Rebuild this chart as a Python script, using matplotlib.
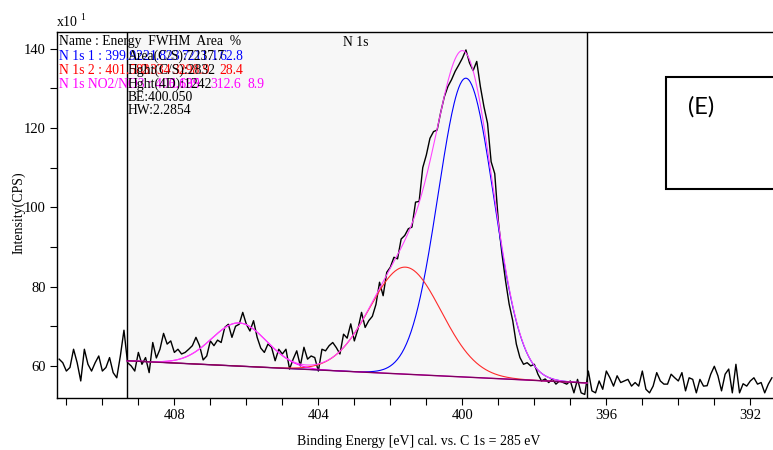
import numpy as np
import matplotlib
matplotlib.use("Agg")
import matplotlib.pyplot as plt
from matplotlib.patches import Rectangle
from matplotlib.ticker import MultipleLocator

# N 1s spectrum, 411.2 -> 391.4 eV in 0.1 eV steps (x10 CPS)
e_start, e_stop = 411.2, 391.4
counts = [
    61.7, 60.8, 58.7, 59.6, 64.2, 60.8, 56.2, 64.2, 60.4, 58.7,
    60.8, 62.5, 58.7, 59.6, 62.1, 58.3, 57.0, 62.5, 69.0, 60.8,
    60.0, 58.7, 63.4, 60.4, 62.1, 58.3, 65.9, 62.0, 64.2, 68.2,
    65.5, 66.3, 63.4, 64.2, 63.0, 63.4, 64.2, 65.1, 67.2, 65.1,
    61.5, 62.5, 66.3, 65.1, 66.5, 65.9, 69.7, 70.5, 67.2, 70.0,
    70.5, 73.5, 70.5, 68.8, 71.4, 67.2, 64.5, 63.4, 65.5, 64.7,
    61.3, 64.2, 63.0, 64.2, 59.2, 61.7, 63.8, 60.0, 64.7, 61.7,
    62.5, 62.1, 58.7, 64.2, 63.8, 65.1, 65.9, 64.6, 63.0, 68.0,
    67.0, 70.6, 66.3, 69.3, 73.5, 69.7, 71.4, 72.5, 75.5, 81.1,
    77.7, 83.6, 84.9, 87.4, 87.0, 92.0, 92.9, 94.6, 95.0, 101.3,
    101.5, 110.0, 113.2, 117.4, 119.1, 119.5, 124.0, 127.9, 130.5, 132.2,
    134.3, 135.9, 137.6, 139.7, 136.4, 134.5, 136.8, 130.5, 125.4, 121.2,
    111.5, 108.5, 96.5, 88.3, 81.5, 75.6, 71.4, 65.5, 62.1, 60.4,
    60.8, 60.0, 60.4, 57.9, 56.2, 56.7, 55.8, 56.7, 55.4, 56.2,
    55.8, 55.4, 56.2, 53.2, 56.6, 53.2, 52.8, 58.7, 53.7, 53.2,
    56.2, 54.1, 58.7, 57.0, 54.9, 57.5, 55.8, 56.2, 56.6, 54.9,
    55.8, 54.9, 58.7, 54.1, 53.2, 54.9, 58.3, 56.2, 55.4, 55.4,
    57.9, 57.0, 56.2, 58.3, 53.7, 57.0, 56.6, 53.2, 56.6, 54.9,
    55.0, 57.9, 59.9, 57.5, 53.7, 57.9, 59.2, 53.2, 60.4, 53.2,
    55.5, 54.9, 56.2, 57.0, 55.4, 55.8, 53.2, 55.4, 57.0,
]

# fitted components: centre (eV), FWHM (eV), height above background
peak_centre = [399.90, 401.58, 406.20]
peak_fwhm = [1.82, 2.33, 1.80]
peak_height = [75.4, 27.0, 10.9]
peak_colors = ["#0000ff", "#ff2a2a", "#ff00ff"]

# fit region and linear background at its two ends
region = [409.31, 396.54]
bg_ends = [61.3, 55.7]

W, H = 773, 450


def px(x, y):
    return x / W, 1 - y / H


energy = np.linspace(e_start, e_stop, len(counts))
e_fit = np.linspace(region[0], region[1], 600)
bg = np.interp(e_fit, region[::-1], bg_ends[::-1])

fig = plt.figure(figsize=(W / 100, H / 100), dpi=100)
ax = fig.add_axes([57 / W, 1 - 398 / H, 1.0 - 57 / W, (398 - 31.7) / H])

serif = "Liberation Serif"

ax.axvspan(region[1], region[0], color="#f7f7f7", zorder=0)
ax.axvline(region[0], color="black", lw=1.0, zorder=1)
ax.axvline(region[1], color="black", lw=1.0, zorder=1)

ax.plot(energy, counts, color="black", lw=1.0, zorder=3)

envelope = bg.copy()
for c, f, h, col in zip(peak_centre, peak_fwhm, peak_height, peak_colors):
    g = h * np.exp(-4 * np.log(2) * ((e_fit - c) / f) ** 2)
    envelope += g
    ax.plot(e_fit, bg + g, color=col, lw=0.8, zorder=4)
ax.plot(e_fit, envelope, color="#ff44ff", lw=0.8, zorder=5)
ax.plot(e_fit, bg, color="#800060", lw=1.0, zorder=6)

ax.set_xlim(411.26, 391.37)
ax.set_ylim(51.9, 144.3)
ax.xaxis.set_major_locator(MultipleLocator(4))
ax.xaxis.set_minor_locator(MultipleLocator(1))
ax.yaxis.set_major_locator(MultipleLocator(20))
ax.yaxis.set_minor_locator(MultipleLocator(10))
ax.tick_params(which="major", direction="out", length=5, width=0.8,
               labelsize=10.5, pad=3)
ax.tick_params(which="minor", direction="out", length=5, width=0.8)
for lab in ax.get_xticklabels() + ax.get_yticklabels():
    lab.set_fontfamily(serif)
ax.spines["right"].set_visible(False)
for s in ["left", "bottom", "top"]:
    ax.spines[s].set_linewidth(1.0)

# axis titles
fig.text(*px(419, 441), "Binding Energy [eV] cal. vs. C 1s = 285 eV",
         family=serif, fontsize=10, ha="center", va="center")
fig.text(*px(19, 213), "Intensity(CPS)", family=serif, fontsize=10,
         rotation=90, ha="center", va="center")
fig.text(*px(57, 23), "x10", family=serif, fontsize=10, ha="left", va="center")
fig.text(*px(80, 17), "1", family=serif, fontsize=7, ha="left", va="center")

# fit report text
rows = [42, 56, 70, 84, 97.5, 111]
fs = 9.8
fig.text(*px(59, rows[0]), "Name : Energy  FWHM  Area  %", family=serif,
         fontsize=fs, va="center")
fig.text(*px(343, rows[0]), "N 1s", family=serif, fontsize=fs, va="center")
report = [
    ("N 1s 1 : 399.922", "1.823", "7211.1", "62.8", [150, 181, 219], "#0000ff"),
    ("N 1s 2 : 401.583", "2.334", "3298.9", "28.4", [140, 172, 219], "#ff0000"),
    ("N 1s NO2/NO3 : 406.195", "1.639", "312.6", "8.9", [170, 210, 247], "#ff00ff"),
]
for i, (name, fw, area, pct, xs, col) in enumerate(report):
    y = rows[i + 1]
    fig.text(*px(59, y), name, family=serif, fontsize=fs, color=col, va="center")
    for x, t in zip(xs, [fw, area, pct]):
        fig.text(*px(x, y), t, family=serif, fontsize=fs, color=col, va="center")
info = ["Area(C/S):7237.7", "Hght(C/S):2832", "Hght(4D):1242",
        "BE:400.050", "HW:2.2854"]
for i, t in enumerate(info):
    fig.text(*px(128, rows[i + 1]), t, family=serif, fontsize=fs,
             color="black", va="center")

# panel label box
fig.patches.append(Rectangle(px(666, 189), (800 - 666) / W, (189 - 77) / H,
                             transform=fig.transFigure, facecolor="white",
                             edgecolor="black", lw=1.5))
fig.text(*px(688, 107), "(E)", family="Lato", fontsize=17, va="center")

fig.savefig("out.png", dpi=100)
